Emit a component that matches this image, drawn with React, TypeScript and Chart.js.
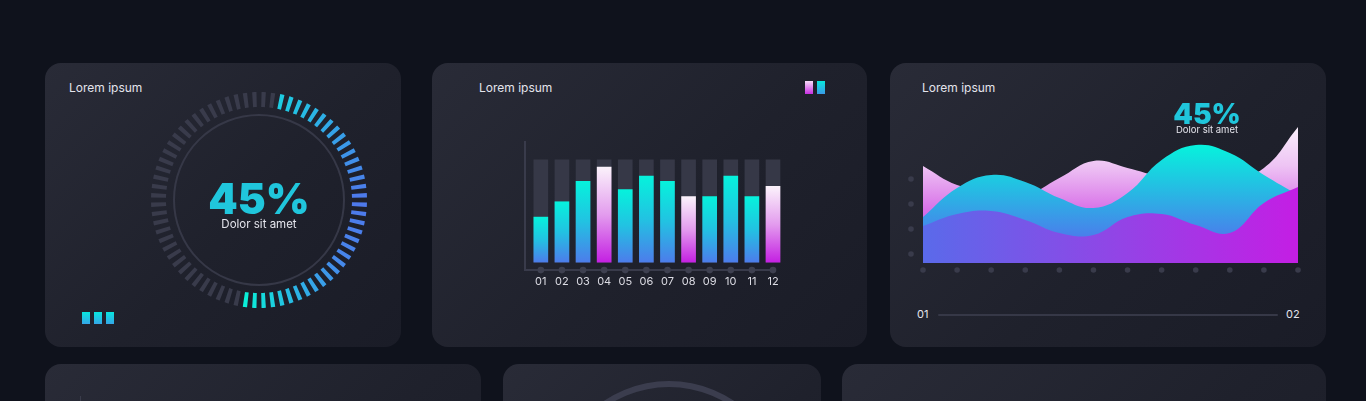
import React, { useEffect, useRef } from "react";
import { Chart, registerables } from "chart.js";

Chart.register(...registerables);

const FONT = "Inter, 'Open Sans', sans-serif";

// ---------- Gauge (card 1) ----------
const gaugeTickCount = 72;
const gaugeActiveStart = 2;
const gaugeActiveEnd = 37;
const gaugeValueText = "45%";
const gaugeCaption = "Dolor sit amet";

// ---------- Bars (card 2) ----------
const barLabels = ["01", "02", "03", "04", "05", "06", "07", "08", "09", "10", "11", "12"];
const barValues = [44, 59, 79, 93, 71, 84, 79, 64, 64, 84, 64, 74];
const barTrack = [100, 100, 100, 100, 100, 100, 100, 100, 100, 100, 100, 100];
const barHighlighted = [false, false, false, true, false, false, false, true, false, false, false, true];

// ---------- Waves (card 3) ----------
const waveLabels = ["1", "2", "3", "4", "5", "6", "7", "8", "9", "10", "11", "12"];
const wavePink = [97, 78, 72, 68, 85, 102, 95, 86, 82, 84, 95, 136];
const waveCyan = [46, 75, 88, 81, 65, 55, 70, 103, 118, 110, 88, 68];
const wavePurple = [37, 49, 52, 43, 30, 28, 46, 49, 38, 30, 60, 76];
const waveYTicks = [9, 34, 59, 84];
const waveRangeLabels = ["01", "02"];
const waveValueText = "45%";
const waveCaption = "Dolor sit amet";

const titleText = "Lorem ipsum";

const GRAY = "#393b4b";

const gaugeStops: [number, number[]][] = [
  [12.5, [30, 204, 226]],
  [50, [54, 160, 232]],
  [90, [78, 120, 235]],
  [125, [72, 134, 234]],
  [158, [44, 180, 230]],
  [187.5, [10, 238, 216]],
];

function gaugeColor(angle: number): string {
  for (let i = 0; i < gaugeStops.length - 1; i++) {
    const [a0, c0] = gaugeStops[i];
    const [a1, c1] = gaugeStops[i + 1];
    if (angle <= a1) {
      const t = Math.max(0, Math.min(1, (angle - a0) / (a1 - a0)));
      const c = c0.map((v, j) => Math.round(v + (c1[j] - v) * t));
      return `rgb(${c[0]},${c[1]},${c[2]})`;
    }
  }
  const c = gaugeStops[gaugeStops.length - 1][1];
  return `rgb(${c[0]},${c[1]},${c[2]})`;
}

function GaugeChart() {
  const ref = useRef<HTMLCanvasElement>(null);
  useEffect(() => {
    const data: number[] = [];
    const colors: string[] = [];
    for (let k = 0; k < gaugeTickCount; k++) {
      data.push(2.3, 2.7);
      const active = k >= gaugeActiveStart && k <= gaugeActiveEnd;
      colors.push(active ? gaugeColor(2.5 + 5 * k) : GRAY, "rgba(0,0,0,0)");
    }
    const innerRing = {
      id: "innerRing",
      beforeDatasetsDraw(chart: any) {
        const arc = chart.getDatasetMeta(0).data[0];
        if (!arc) return;
        const c = chart.ctx;
        c.save();
        c.beginPath();
        c.arc(arc.x, arc.y, 85, 0, Math.PI * 2);
        c.strokeStyle = "#363847";
        c.lineWidth = 2;
        c.stroke();
        c.restore();
      },
    };
    const chart = new Chart(ref.current!, {
      type: "doughnut",
      data: {
        labels: data.map((_, i) => String(i)),
        datasets: [{ data, backgroundColor: colors, borderWidth: 0, hoverOffset: 0 }],
      },
      options: {
        responsive: false,
        animation: false,
        events: [],
        rotation: 1.35,
        cutout: 93,
        layout: { padding: 2 },
        plugins: { legend: { display: false }, tooltip: { enabled: false } },
      },
      plugins: [innerRing],
    } as any);
    return () => chart.destroy();
  }, []);
  return (
    <canvas
      ref={ref}
      width={220}
      height={220}
      style={{ position: "absolute", left: 149, top: 90, width: 220, height: 220 }}
    />
  );
}

function BarChartCard() {
  const ref = useRef<HTMLCanvasElement>(null);
  useEffect(() => {
    const barFill = (ctx: any) => {
      const chart = ctx.chart;
      const { chartArea, scales } = chart;
      if (!chartArea || ctx.type !== "data") return "#0ae6dc";
      const i = ctx.dataIndex;
      const top = scales.y.getPixelForValue(barValues[i]);
      const bottom = scales.y.getPixelForValue(0);
      const g = chart.ctx.createLinearGradient(0, top, 0, bottom);
      if (barHighlighted[i]) {
        g.addColorStop(0, "#fbf2fb");
        g.addColorStop(0.5, "#e39cee");
        g.addColorStop(1, "#c421e2");
      } else {
        g.addColorStop(0, "#06f2dc");
        g.addColorStop(0.5, "#22c2e2");
        g.addColorStop(1, "#4c7deb");
      }
      return g;
    };
    const dots = {
      id: "axisDots",
      afterDraw(chart: any) {
        const { ctx: c, chartArea, scales } = chart;
        c.save();
        c.fillStyle = "#3e4050";
        scales.x.ticks.forEach((t: any) => {
          c.beginPath();
          c.arc(scales.x.getPixelForValue(t.value), chartArea.bottom, 3.3, 0, Math.PI * 2);
          c.fill();
        });
        c.restore();
      },
    };
    const chart = new Chart(ref.current!, {
      type: "bar",
      data: {
        datasets: [
          {
            data: barValues.map((v, i) => ({ x: i + 1, y: v })),
            backgroundColor: barFill,
            barThickness: 14,
            maxBarThickness: 14,
            grouped: false,
            clip: false,
            borderWidth: 0,
          },
          {
            data: barTrack.map((v, i) => ({ x: i + 1, y: v })),
            backgroundColor: "#363847",
            barThickness: 14,
            maxBarThickness: 14,
            grouped: false,
            clip: false,
            borderWidth: 0,
          },
        ],
      },
      options: {
        responsive: false,
        animation: false,
        events: [],
        layout: { padding: { left: 93, right: 94, top: 79, bottom: 53.7 } },
        plugins: { legend: { display: false }, tooltip: { enabled: false } },
        scales: {
          x: {
            type: "linear",
            min: 0.25,
            max: 12,
            offset: false,
            grid: { display: false, drawTicks: false },
            border: { display: true, color: GRAY, width: 2 },
            afterBuildTicks: (axis: any) => {
              axis.ticks = barLabels.map((_, i) => ({ value: i + 1 }));
            },
            ticks: {
              autoSkip: false,
              maxRotation: 0,
              padding: 5,
              color: "#dcdce4",
              font: { family: FONT, size: 11 },
              callback: (v: any) => barLabels[Number(v) - 1] ?? "",
            },
          },
          y: {
            min: -7.8,
            max: 117.4,
            grid: { display: false, drawTicks: false },
            border: { display: true, color: GRAY, width: 2 },
            ticks: { display: false },
          },
        },
      },
      plugins: [dots],
    } as any);
    return () => chart.destroy();
  }, []);
  return (
    <canvas
      ref={ref}
      width={435}
      height={284}
      style={{ position: "absolute", left: 432, top: 63, width: 435, height: 284 }}
    />
  );
}

function WaveChartCard() {
  const ref = useRef<HTMLCanvasElement>(null);
  useEffect(() => {
    const vertical = (stops: [number, string][]) => (ctx: any) => {
      const chart = ctx.chart;
      const { chartArea } = chart;
      if (!chartArea) return stops[0][1];
      const g = chart.ctx.createLinearGradient(0, chartArea.top, 0, chartArea.bottom);
      stops.forEach(([o, col]) => g.addColorStop(o, col));
      return g;
    };
    const horizontal = (ctx: any) => {
      const chart = ctx.chart;
      const { chartArea } = chart;
      if (!chartArea) return "#8a4ee8";
      const g = chart.ctx.createLinearGradient(chartArea.left, 0, chartArea.right, 0);
      g.addColorStop(0, "#5a6aea");
      g.addColorStop(0.5, "#9046e6");
      g.addColorStop(1, "#c41ee4");
      return g;
    };
    const dots = {
      id: "waveDots",
      afterDraw(chart: any) {
        const { ctx: c, chartArea, scales } = chart;
        c.save();
        c.fillStyle = GRAY;
        scales.x.ticks.forEach((_: any, i: number) => {
          c.beginPath();
          c.arc(scales.x.getPixelForTick(i), chartArea.bottom + 7, 2.8, 0, Math.PI * 2);
          c.fill();
        });
        waveYTicks.forEach((v) => {
          c.beginPath();
          c.arc(chartArea.left - 12, scales.y.getPixelForValue(v), 2.8, 0, Math.PI * 2);
          c.fill();
        });
        c.restore();
      },
    };
    const common = { fill: "origin", borderWidth: 0, pointRadius: 0, tension: 0.42 };
    const chart = new Chart(ref.current!, {
      type: "line",
      data: {
        labels: waveLabels,
        datasets: [
          { ...common, data: wavePurple, backgroundColor: horizontal, borderColor: "rgba(0,0,0,0)" },
          {
            ...common,
            data: waveCyan,
            borderColor: "rgba(0,0,0,0)",
            backgroundColor: vertical([
              [0.2, "#05f5dc"],
              [0.55, "#2ab4e4"],
              [0.85, "#4c7aec"],
              [1, "#5070ec"],
            ]),
          },
          {
            ...common,
            data: wavePink,
            borderColor: "rgba(0,0,0,0)",
            backgroundColor: vertical([
              [0.05, "#fbf6fc"],
              [0.35, "#eec4f4"],
              [0.65, "#d870e8"],
              [1, "#c02ee0"],
            ]),
          },
        ],
      },
      options: {
        responsive: false,
        animation: false,
        events: [],
        layout: { padding: { left: 28, right: 17, top: 13, bottom: 22 } },
        plugins: { legend: { display: false }, tooltip: { enabled: false } },
        scales: {
          x: {
            offset: false,
            grid: { display: false, drawTicks: false },
            border: { display: false },
            ticks: { display: false },
          },
          y: {
            min: 0,
            max: 150,
            grid: { display: false, drawTicks: false },
            border: { display: false },
            ticks: { display: false },
          },
        },
      },
      plugins: [dots],
    } as any);
    return () => chart.destroy();
  }, []);
  return (
    <canvas
      ref={ref}
      width={420}
      height={185}
      style={{ position: "absolute", left: 895, top: 100, width: 420, height: 185 }}
    />
  );
}

function ArcChartCard() {
  const ref = useRef<HTMLCanvasElement>(null);
  useEffect(() => {
    const chart = new Chart(ref.current!, {
      type: "doughnut",
      data: { labels: ["track"], datasets: [{ data: [1], backgroundColor: ["#3b3d4e"], borderWidth: 0 }] },
      options: {
        responsive: false,
        animation: false,
        events: [],
        cutout: 111,
        layout: { padding: 3 },
        plugins: { legend: { display: false }, tooltip: { enabled: false } },
      },
    } as any);
    return () => chart.destroy();
  }, []);
  return (
    <canvas
      ref={ref}
      width={240}
      height={240}
      style={{ position: "absolute", left: 549, top: 378, width: 240, height: 240 }}
    />
  );
}

const cardStyle = (left: number, top: number, width: number, height: number): React.CSSProperties => ({
  position: "absolute",
  left,
  top,
  width,
  height,
  borderRadius: 16,
  background: "linear-gradient(135deg, #292b37 0%, #1f212c 55%, #1a1c27 100%)",
});

const textStyle = (left: number, top: number, size: number, extra: React.CSSProperties = {}): React.CSSProperties => ({
  position: "absolute",
  left,
  top,
  fontFamily: FONT,
  fontSize: size,
  lineHeight: `${Math.round(size * 1.3)}px`,
  color: "#e4e4ec",
  whiteSpace: "nowrap",
  ...extra,
});

export default function App() {
  return (
    <div
      style={{
        position: "absolute",
        left: 0,
        top: 0,
        width: 1366,
        height: 401,
        overflow: "hidden",
        background: "#0f121c",
      }}
    >
      {/* cards */}
      <div style={cardStyle(45, 63, 356, 284)} />
      <div style={cardStyle(432, 63, 435, 284)} />
      <div style={cardStyle(890, 63, 436, 284)} />
      <div style={cardStyle(45, 364, 436, 284)} />
      <div style={cardStyle(503, 364, 318, 284)} />
      <div style={cardStyle(842, 364, 484, 284)} />

      {/* titles */}
      <div style={textStyle(69, 80, 12)}>{titleText}</div>
      <div style={textStyle(479, 80, 12)}>{titleText}</div>
      <div style={textStyle(922, 80, 12)}>{titleText}</div>

      {/* card 1 */}
      <GaugeChart />
      <div
        style={{
          position: "absolute",
          left: 159,
          width: 200,
          top: 178,
          textAlign: "center",
          fontFamily: FONT,
          fontWeight: 900,
          fontSize: 42,
          lineHeight: "42px",
          color: "#20c6dc",
        }}
      >
        {gaugeValueText}
      </div>
      <div style={{ ...textStyle(159, 217, 11.5), width: 200, textAlign: "center" }}>{gaugeCaption}</div>
      {[0, 1, 2].map((i) => (
        <div
          key={i}
          style={{
            position: "absolute",
            left: 82 + i * 12.2,
            top: 312,
            width: 7.6,
            height: 11.5,
            background: "linear-gradient(180deg, #08e6de, #35a6e8)",
          }}
        />
      ))}

      {/* card 2 */}
      <BarChartCard />
      <div
        style={{
          position: "absolute",
          left: 805,
          top: 81,
          width: 8,
          height: 12.5,
          background: "linear-gradient(180deg, #f6dcf8, #c82ee2)",
        }}
      />
      <div
        style={{
          position: "absolute",
          left: 817,
          top: 81,
          width: 8,
          height: 12.5,
          background: "linear-gradient(180deg, #08e8dc, #3a9ae8)",
        }}
      />

      {/* card 3 */}
      <WaveChartCard />
      <div
        style={{
          position: "absolute",
          left: 1107,
          width: 200,
          top: 100,
          textAlign: "center",
          fontFamily: FONT,
          fontWeight: 900,
          fontSize: 28,
          lineHeight: "28px",
          color: "#20c6dc",
        }}
      >
        {waveValueText}
      </div>
      <div style={{ ...textStyle(1107, 124, 9.5), width: 200, textAlign: "center" }}>{waveCaption}</div>
      <div style={textStyle(917, 307, 11)}>{waveRangeLabels[0]}</div>
      <div
        style={{ position: "absolute", left: 938, top: 313.5, width: 340, height: 2, background: "#363847", borderRadius: 1 }}
      />
      <div style={textStyle(1286, 307, 11)}>{waveRangeLabels[1]}</div>

      {/* bottom row */}
      <ArcChartCard />
      <div style={{ position: "absolute", left: 79.5, top: 396, width: 1, height: 6, background: "#3a3c4b" }} />
    </div>
  );
}
